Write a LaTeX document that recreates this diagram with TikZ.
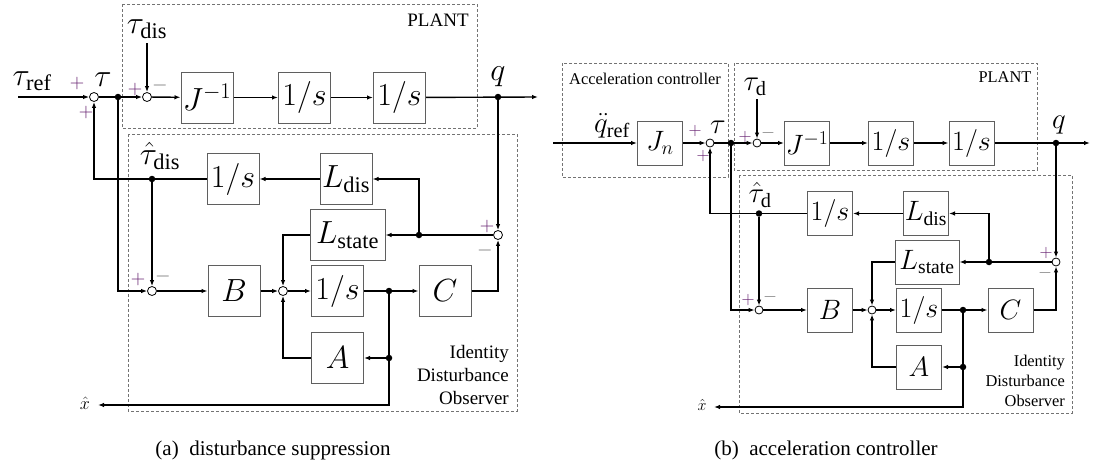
\RequirePackage{fix-cm}
\documentclass[tikz,border=0pt]{standalone}
\usepackage{fontspec}
\setmainfont{Liberation Serif}
\usetikzlibrary{arrows.meta}
\definecolor{pluscol}{RGB}{100,30,110}
\definecolor{minuscol}{RGB}{120,120,120}
\definecolor{boxgray}{RGB}{95,95,95}
\definecolor{dashgray}{RGB}{115,115,115}
\begin{document}
\begin{tikzpicture}[x=1pt,y=-1pt,
  wire/.style={line width=1.4pt, -{Latex[length=6pt,width=4.5pt]}},
  wireline/.style={line width=1.4pt},
  dbox/.style={draw=dashgray, line width=0.8pt, dash pattern=on 3pt off 2pt},
  blkA/.style={draw=boxgray, line width=1pt, minimum width=52pt, minimum height=51pt, inner sep=0pt, font=\fontsize{32}{38}\selectfont},
  blkB/.style={draw=boxgray, line width=1pt, minimum width=45pt, minimum height=44pt, inner sep=0pt, font=\fontsize{28}{34}\selectfont},
  sumA/.style={circle, draw=black, line width=0.8pt, fill=white, minimum size=9pt, inner sep=0pt},
  sumB/.style={circle, draw=black, line width=0.8pt, fill=white, minimum size=8pt, inner sep=0pt},
  jdot/.style={circle, fill=black, minimum size=6.5pt, inner sep=0pt},
  labA/.style={font=\fontsize{32}{38}\selectfont, inner sep=0pt},
  labB/.style={font=\fontsize{29}{34}\selectfont, inner sep=0pt},
  plA/.style={font=\fontsize{20}{24}\selectfont, text=pluscol, inner sep=0pt},
  miA/.style={font=\fontsize{20}{24}\selectfont, text=minuscol, inner sep=0pt},
  plB/.style={font=\fontsize{18}{22}\selectfont, text=pluscol, inner sep=0pt},
  miB/.style={font=\fontsize{18}{22}\selectfont, text=minuscol, inner sep=0pt},
  txtA/.style={font=\fontsize{19}{23}\selectfont, inner sep=0pt},
  txtB/.style={font=\fontsize{16.4}{20}\selectfont, inner sep=0pt},
  capt/.style={font=\fontsize{21}{25}\selectfont, inner sep=0pt}
]
\useasboundingbox (0,0) rectangle (1095,466);

% ================= (a) =================
\draw[dbox] (122,4) rectangle (477,128);
\draw[dbox] (128,134) rectangle (517,411);
\node[txtA] (a_plant) at (438,20) {PLANT};
\node[txtA, align=right, anchor=east] (a_ido) at (509,375) {Identity\\Disturbance\\Observer};

\coordinate (a_in) at (18,97);
\node[sumA] (a_s1) at (94,97) {};
\node[jdot] (a_j1) at (118,97) {};
\node[sumA] (a_s2) at (147,97) {};
\coordinate (a_tdis) at (147,43);
\node[blkA] (a_jinv) at (207,97.5) {$J^{-1}$};
\node[blkA] (a_p1) at (304.5,97.5) {$1/s$};
\node[blkA] (a_p2) at (399.5,97.5) {$1/s$};
\node[jdot] (a_q) at (498,97) {};
\coordinate (a_out) at (538,97);

\node[blkA] (a_int0) at (233,179) {$1/s$};
\node[blkA] (a_ldis) at (346,179) {$L_{\mathrm{dis}}$};
\node[jdot] (a_dh) at (152,179) {};
\node[blkA, minimum width=75pt] (a_lst) at (347.5,235) {$L_{\mathrm{state}}$};
\node[jdot] (a_j5) at (419,235) {};
\node[sumA] (a_s5) at (498,235) {};

\node[sumA] (a_s3) at (152,291) {};
\node[blkA] (a_B) at (234,291) {$B$};
\node[sumA] (a_s4) at (283,291) {};
\node[blkA] (a_int1) at (337.5,291) {$1/s$};
\node[jdot] (a_j6) at (389,291) {};
\node[blkA] (a_C) at (445,291) {$C$};
\node[blkA] (a_A) at (337.5,358) {$A$};
\node[jdot] (a_j7) at (389,358) {};
\coordinate (a_xh) at (98,405);

\draw[wire] (a_in) -- (a_s1);
\draw[wire] (a_s1) -- (a_s2);
\draw[wire] (a_tdis) -- (a_s2);
\draw[wire] (a_s2) -- (a_jinv);
\draw[wire] (a_jinv) -- (a_p1);
\draw[wire] (a_p1) -- (a_p2);
\draw[wire] (a_p2) -- (a_out);
\draw[wire] (a_q) -- (a_s5);
\draw[wire] (a_s5) -- (a_lst);
\draw[wire] (a_j5) |- (a_ldis);
\draw[wire] (a_ldis) -- (a_int0);
\draw[wire] (a_int0) -| (a_s1);
\draw[wire] (a_dh) -- (a_s3);
\draw[wire] (a_j1) |- (a_s3);
\draw[wire] (a_s3) -- (a_B);
\draw[wire] (a_B) -- (a_s4);
\draw[wire] (a_s4) -- (a_int1);
\draw[wire] (a_int1) -- (a_C);
\draw[wire] (a_C) -| (a_s5);
\draw[wire] (a_lst) -| (a_s4);
\draw[wire] (a_A) -| (a_s4);
\draw[wireline] (a_j6) -- (a_j7);
\draw[wire] (a_j7) -- (a_A);
\draw[wire] (a_j7) |- (a_xh);

\node[labA] (a_ltref) at (32,81) {$\tau_{\mathrm{ref}}$};
\node[labA] (a_ltau) at (103,80) {$\tau$};
\node[labA] (a_ltdis) at (147,29) {$\tau_{\mathrm{dis}}$};
\node[labA] (a_lq) at (498,77) {$q$};
\node[labA] (a_lthat) at (160,156) {$\hat{\tau}_{\mathrm{dis}}$};
\node[font=\fontsize{18}{20}\selectfont, inner sep=0pt] (a_lxh) at (85,403) {$\hat{x}$};

\node[plA] (a_sg1) at (77,83) {$+$};
\node[plA] (a_sg2) at (86,112) {$+$};
\node[plA] (a_sg3) at (135,89) {$+$};
\node[miA] (a_sg4) at (160,85) {$-$};
\node[plA] (a_sg5) at (138,279) {$+$};
\node[miA] (a_sg6) at (163,276) {$-$};
\node[plA] (a_sg7) at (487,226) {$+$};
\node[miA] (a_sg8) at (485,250) {$-$};

\node[capt] (a_cap) at (273,450) {(a)\enspace disturbance suppression};

% ================= (b) =================
\draw[dbox] (562,63) rectangle (728,177);
\draw[dbox] (734,63) rectangle (1037,170);
\draw[dbox] (739,175) rectangle (1072,413);
\node[txtB] (b_acc) at (645,79) {Acceleration controller};
\node[txtB] (b_plant) at (1005,77) {PLANT};
\node[txtB, align=right, anchor=east] (b_ido) at (1065,381) {Identity\\Disturbance\\Observer};

\coordinate (b_in) at (553,143);
\node[blkB] (b_jn) at (660,143) {$J_n$};
\node[sumB] (b_s1) at (710,143) {};
\node[jdot] (b_j1) at (731,143) {};
\node[sumB] (b_s2) at (757,143) {};
\coordinate (b_td) at (757,99);
\node[blkB] (b_jinv) at (807,143) {$J^{-1}$};
\node[blkB] (b_p1) at (891,143) {$1/s$};
\node[blkB] (b_p2) at (971.5,143) {$1/s$};
\node[jdot] (b_q) at (1056,143) {};
\coordinate (b_out) at (1090,143);

\node[blkB] (b_int0) at (830,213.5) {$1/s$};
\node[blkB] (b_ldis) at (926,213.5) {$L_{\mathrm{dis}}$};
\node[jdot] (b_dh) at (759,213.5) {};
\node[blkB, minimum width=64pt] (b_lst) at (927,262) {$L_{\mathrm{state}}$};
\node[jdot] (b_j5) at (989,262) {};
\node[sumB] (b_s5) at (1056,262) {};

\node[sumB] (b_s3) at (759,310) {};
\node[blkB] (b_B) at (830,310) {$B$};
\node[sumB] (b_s4) at (872,310) {};
\node[blkB] (b_int1) at (919,310) {$1/s$};
\node[jdot] (b_j6) at (963,310) {};
\node[blkB] (b_C) at (1010.5,310) {$C$};
\node[blkB] (b_A) at (919,367) {$A$};
\node[jdot] (b_j7) at (963,367) {};
\coordinate (b_xh) at (714,407);

\draw[wire] (b_in) -- (b_jn);
\draw[wire] (b_jn) -- (b_s1);
\draw[wire] (b_s1) -- (b_s2);
\draw[wire] (b_td) -- (b_s2);
\draw[wire] (b_s2) -- (b_jinv);
\draw[wire] (b_jinv) -- (b_p1);
\draw[wire] (b_p1) -- (b_p2);
\draw[wire] (b_p2) -- (b_out);
\draw[wire] (b_q) -- (b_s5);
\draw[wire] (b_s5) -- (b_lst);
\draw[wire] (b_j5) |- (b_ldis);
\draw[wire] (b_ldis) -- (b_int0);
\draw[wire] (b_int0) -| (b_s1);
\draw[wire] (b_dh) -- (b_s3);
\draw[wire] (b_j1) |- (b_s3);
\draw[wire] (b_s3) -- (b_B);
\draw[wire] (b_B) -- (b_s4);
\draw[wire] (b_s4) -- (b_int1);
\draw[wire] (b_int1) -- (b_C);
\draw[wire] (b_C) -| (b_s5);
\draw[wire] (b_lst) -| (b_s4);
\draw[wire] (b_A) -| (b_s4);
\draw[wireline] (b_j6) -- (b_j7);
\draw[wire] (b_j7) -- (b_A);
\draw[wire] (b_j7) |- (b_xh);

\node[labB] (b_lqref) at (612,126) {$\ddot{q}_{\mathrm{ref}}$};
\node[labB] (b_ltau) at (718,127) {$\tau$};
\node[labB] (b_ltd) at (755,87) {$\tau_{\mathrm{d}}$};
\node[labB] (b_lq) at (1059,125) {$q$};
\node[labB] (b_lthat) at (760,195) {$\hat{\tau}_{\mathrm{d}}$};
\node[font=\fontsize{16}{18}\selectfont, inner sep=0pt] (b_lxh) at (702,405) {$\hat{x}$};

\node[plB] (b_sg1) at (695,131) {$+$};
\node[plB] (b_sg2) at (703,156) {$+$};
\node[plB] (b_sg3) at (745,137) {$+$};
\node[miB] (b_sg4) at (768,133) {$-$};
\node[plB] (b_sg5) at (748,300) {$+$};
\node[miB] (b_sg6) at (770,297) {$-$};
\node[plB] (b_sg7) at (1046,253) {$+$};
\node[miB] (b_sg8) at (1045,273) {$-$};

\node[capt] (b_cap) at (826,450) {(b)\enspace acceleration controller};
\end{tikzpicture}
\end{document}
